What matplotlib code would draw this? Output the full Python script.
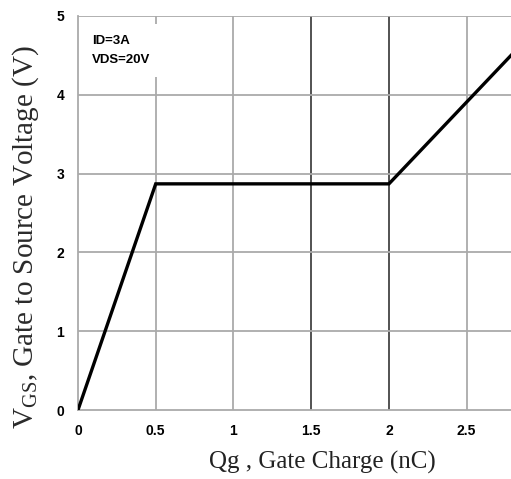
import matplotlib
matplotlib.use("Agg")
import matplotlib.pyplot as plt

# gate charge curve
qg = [0.0, 0.5, 2.0, 2.785]
vgs = [0.0, 2.87, 2.87, 4.5]

xticks = [0, 0.5, 1, 1.5, 2, 2.5]
xtick_labels = ["0", "0.5", "1", "1.5", "2", "2.5"]
yticks = [0, 1, 2, 3, 4, 5]
dark_grid = [1.5, 2]

plt.rcParams["mathtext.fontset"] = "custom"
plt.rcParams["mathtext.rm"] = "Liberation Serif"

fig = plt.figure(figsize=(5.11, 4.79), dpi=100)
ax = fig.add_axes([0.1526, 0.144, 0.8474, 0.8226])

ax.set_xlim(0, 2.785)
ax.set_ylim(0, 5)

# grid by hand so a couple of verticals can be darker
for x in xticks[1:]:
    c = "#444444" if x in dark_grid else "#aaaaaa"
    ax.axvline(x, color=c, lw=1.3, zorder=1)
for y in yticks[1:]:
    ax.axhline(y, color="#aaaaaa", lw=1.3, zorder=1)

for side in ["top", "right"]:
    ax.spines[side].set_visible(False)
for side in ["left", "bottom"]:
    ax.spines[side].set_color("#aaaaaa")
    ax.spines[side].set_linewidth(1.3)

ax.plot(qg, vgs, color="black", lw=2.4, zorder=3, solid_joinstyle="miter")

ax.set_xticks(xticks)
ax.set_xticklabels(xtick_labels)
ax.set_yticks(yticks)
ax.tick_params(length=0, labelsize=10)
ax.tick_params(axis="x", pad=10)
ax.tick_params(axis="y", pad=10)
for lab in ax.get_xticklabels() + ax.get_yticklabels():
    lab.set_fontweight("bold")
    lab.set_fontfamily("Liberation Sans")

ax.text(0.032, 0.952, "ID=3A\nVDS=20V", transform=ax.transAxes,
        fontsize=9.5, fontweight="bold", family="Liberation Sans",
        va="top", ha="left", linespacing=1.75, zorder=4,
        bbox=dict(facecolor="white", edgecolor="none", pad=8))

ax.set_xlabel("Qg , Gate Charge (nC)", family="Liberation Serif",
              fontsize=18, color="#222222")
ax.xaxis.set_label_coords(0.564, -0.105)
ax.set_ylabel(r"V$_{\rm GS}$, Gate to Source Voltage (V)", family="Liberation Serif",
              fontsize=21, color="#2a2a2a")
ax.yaxis.set_label_coords(-0.086, 0.44)

fig.savefig("out.png", dpi=100)
